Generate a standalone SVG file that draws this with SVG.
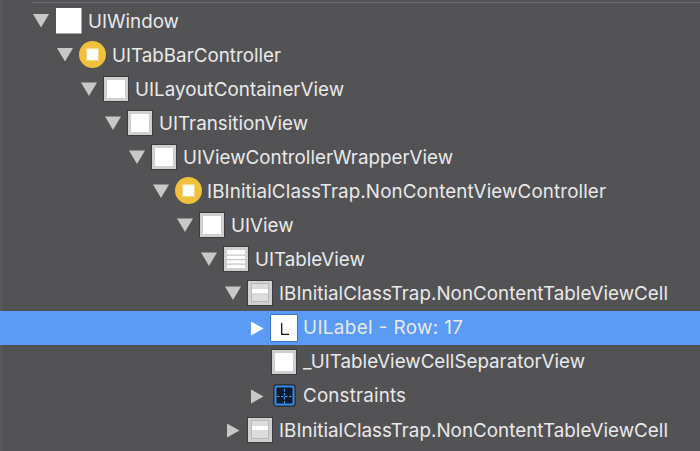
<svg xmlns="http://www.w3.org/2000/svg" width="700" height="451" viewBox="0 0 700 451">
<defs>
<style>
text{font-family:"Inter","Liberation Sans",Arial,sans-serif;font-size:18.8px;fill:#e9e9ea}
.tri{fill:#c8c8c8}
.frame{fill:#d0d0d0;stroke:#3c3c3e;stroke-width:1}
.in{fill:#fff}
.ln{fill:#c4c4c4}
</style>
<g id="view"><rect class="frame" x="0.5" y="0.5" width="25" height="25"/><rect class="in" x="4" y="4" width="18" height="18"/></g>
<g id="table"><rect class="frame" x="0.5" y="0.5" width="25" height="25"/><rect class="in" x="4" y="4" width="18" height="18"/><rect class="ln" x="4" y="8.500" width="18" height="1.200"/><rect class="ln" x="4" y="13" width="18" height="1.200"/><rect class="ln" x="4" y="17.500" width="18" height="1.200"/></g>
<g id="cell"><rect class="frame" x="0.500" y="0.500" width="25" height="25"/><rect fill="#dcdcdc" x="4.500" y="3.500" width="17" height="18" stroke="#b8b8b8"/><rect class="in" x="5" y="9" width="16" height="4"/></g>
<g id="vc"><circle cx="13.500" cy="13.500" r="13.500" fill="#f2c03d"/><rect x="7" y="7" width="13" height="13" fill="#f7dc8a"/><rect x="8.500" y="8.500" width="10" height="10" fill="#fff" stroke="#fff" stroke-dasharray="1.500 1"/></g>
<path id="d" class="tri" d="M0 0H16L8 13.500Z"/>
<path id="r" class="tri" d="M0 0L12.500 7L0 14Z"/>
</defs>
<rect width="700" height="451" fill="#535355"/>
<rect x="0" y="0" width="2" height="451" fill="#5a5a5c"/>
<rect x="31" y="2" width="669" height="1" fill="#6b6b6d"/>
<rect y="311" width="700" height="34" fill="#5a9bf6"/>
<g id="connectors">
<use href="#d" x="33" y="14"/>
<use href="#d" x="57" y="48"/>
<use href="#d" x="81" y="82.500"/>
<use href="#d" x="105" y="116.500"/>
<use href="#d" x="129" y="150.500"/>
<use href="#d" x="153" y="184.500"/>
<use href="#d" x="177" y="218.500"/>
<use href="#d" x="201" y="252.500"/>
<use href="#d" x="225" y="286.500"/>
<path d="M251 321.500L263.500 328.500L251 335.500Z" fill="#fff"/>
<use href="#r" x="251" y="389.500"/>
<use href="#r" x="227" y="423.500"/>
</g>
<g id="n-uiwindow"><rect x="56" y="8" width="25.500" height="25.500" fill="#fff"/><text x="88" y="28">UIWindow</text></g>
<g id="n-tabbar"><use href="#vc" x="79" y="41"/><text x="112" y="62">UITabBarController</text></g>
<g id="n-layout"><use href="#view" x="103" y="76"/><text x="135" y="96" textLength="209">UILayoutContainerView</text></g>
<g id="n-transition"><use href="#view" x="127" y="110"/><text x="159" y="130" textLength="149">UITransitionView</text></g>
<g id="n-wrapper"><use href="#view" x="151" y="144"/><text x="183" y="164" textLength="270">UIViewControllerWrapperView</text></g>
<g id="n-noncontent"><use href="#vc" x="175" y="177"/><text x="207" y="198" textLength="399">IBInitialClassTrap.NonContentViewController</text></g>
<g id="n-uiview"><use href="#view" x="199" y="212"/><text x="231" y="232">UIView</text></g>
<g id="n-tableview"><use href="#table" x="223" y="246"/><text x="255" y="266">UITableView</text></g>
<g id="n-cell1"><use href="#cell" x="247" y="280"/><text x="279" y="300" textLength="389">IBInitialClassTrap.NonContentTableViewCell</text></g>
<g id="n-label"><rect x="270.500" y="314.500" width="27" height="27" fill="#fff" stroke="#3a76c4"/><path d="M281.700 323V334.300H289" fill="none" stroke="#111" stroke-width="1.300"/><text x="303" y="334" textLength="160">UILabel - Row: 17</text></g>
<g id="n-sep"><use href="#view" x="271" y="349"/><text x="303" y="368" textLength="282">_UITableViewCellSeparatorView</text></g>
<g id="n-constraints"><rect x="273" y="384" width="23" height="23" rx="4" fill="#2f3033"/><rect x="275.500" y="386.500" width="18" height="18" rx="1.500" fill="#101a2a" stroke="#2f8cf0" stroke-width="2"/><path d="M284.500 389v15M277 396.500h15" stroke="#3f9bf5" stroke-width="1.200" stroke-dasharray="2.500 1.500"/><text x="303" y="402" textLength="103">Constraints</text></g>
<g id="n-cell2"><use href="#cell" x="247" y="417"/><text x="279" y="437" textLength="389">IBInitialClassTrap.NonContentTableViewCell</text></g>
</svg>
